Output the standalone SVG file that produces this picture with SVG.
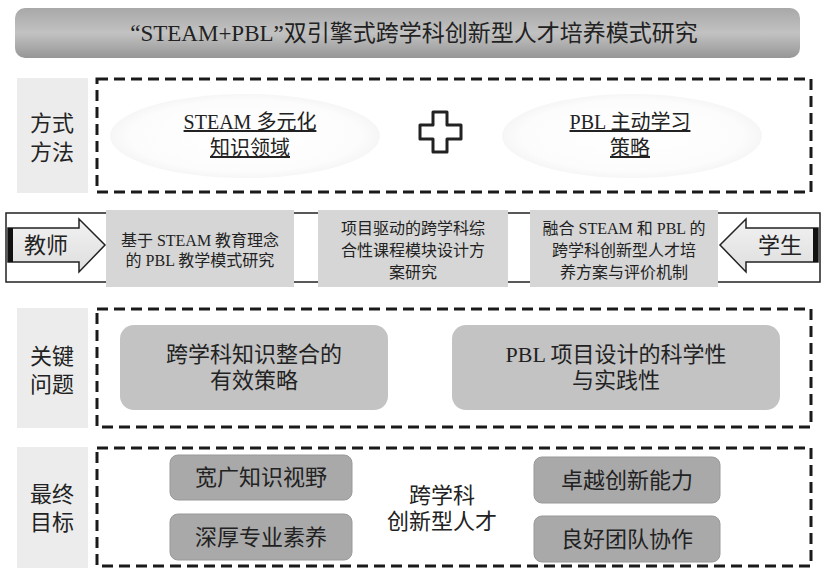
<svg xmlns="http://www.w3.org/2000/svg" width="828" height="576" viewBox="0 0 828 576">
<defs>
<linearGradient id="titleG" x1="0" y1="0" x2="0" y2="1">
<stop offset="0" stop-color="#a8a8a8"/>
<stop offset="0.5" stop-color="#c2c2c2"/>
<stop offset="1" stop-color="#969696"/>
</linearGradient>
<linearGradient id="arrowG" x1="0" y1="0" x2="0" y2="1">
<stop offset="0" stop-color="#f2f2f2"/>
<stop offset="1" stop-color="#dedede"/>
</linearGradient>
<radialGradient id="ellG" cx="0.5" cy="0.5" r="0.5">
<stop offset="0" stop-color="#ffffff"/>
<stop offset="0.85" stop-color="#fcfcfc"/>
<stop offset="1" stop-color="#f6f6f6"/>
</radialGradient>
</defs>
<style>
text{font-family:"Liberation Serif","Noto Sans CJK SC",serif;fill:#222;text-anchor:middle}
.t23{font-size:23px}
.t22{font-size:22px}
.t20{font-size:20px}
.t16{font-size:16px}
.lab{fill:#ececec}
.dash{fill:none;stroke:#1a1a1a;stroke-width:3;stroke-dasharray:11 6}
.band{fill:#d6d6d6}
.key{fill:#c3c3c3}
.goal{fill:#a9a9a9;stroke:#999;stroke-width:1}
.arr{fill:url(#arrowG);stroke:#222;stroke-width:1.5}
.ul{text-decoration:underline}
</style>

<g id="title">
<rect x="15" y="8" width="785" height="50" rx="10" fill="url(#titleG)"/>
<text class="t23" x="414" y="41">“STEAM+PBL”双引擎式跨学科创新型人才培养模式研究</text>
</g>

<g id="method">
<rect class="lab" x="17" y="78" width="71" height="115"/>
<text class="t22" x="52" y="131">方式</text>
<text class="t22" x="52" y="160">方法</text>
<rect class="dash" x="97" y="79" width="714" height="113"/>
<ellipse cx="245" cy="136" rx="135" ry="42" fill="url(#ellG)"/>
<ellipse cx="632" cy="136" rx="130" ry="42" fill="url(#ellG)"/>
</g>
<g id="steam">
<text class="t20 ul" x="250" y="129">STEAM 多元化</text>
<text class="t20 ul" x="250" y="155">知识领域</text>
</g>
<g id="plus">
<path d="M433,112 H447 V125 H461 V139 H447 V152 H433 V139 H420 V125 H433 Z" fill="#fff" stroke="#222" stroke-width="3" stroke-linejoin="round"/>
</g>
<g id="pbl">
<text class="t20 ul" x="630" y="129">PBL 主动学习</text>
<text class="t20 ul" x="630" y="155">策略</text>
</g>

<g id="band">
<rect x="6" y="213" width="814" height="69" fill="#fff" stroke="#222" stroke-width="1.5"/>
</g>
<g id="teacher">
<path class="arr" d="M8,228 H79 V219 L105,245 L79,272 V262 H8 Z"/>
<rect x="8" y="228" width="5" height="34" fill="#111"/>
<text class="t22" x="46" y="253">教师</text>
</g>
<g id="student">
<path class="arr" d="M818,228 H746 V219 L720,245 L746,272 V262 H818 Z"/>
<rect x="813" y="228" width="5" height="34" fill="#111"/>
<text class="t22" x="780" y="253">学生</text>
</g>
<g id="box1">
<rect class="band" x="106" y="210" width="188" height="77"/>
<text class="t16" x="200" y="246">基于 STEAM 教育理念</text>
<text class="t16" x="200" y="266">的 PBL 教学模式研究</text>
</g>
<g id="box2">
<rect class="band" x="318" y="210" width="190" height="77"/>
<text class="t16" x="413" y="234">项目驱动的跨学科综</text>
<text class="t16" x="413" y="256">合性课程模块设计方</text>
<text class="t16" x="413" y="278">案研究</text>
</g>
<g id="box3">
<rect class="band" x="530" y="210" width="188" height="77"/>
<text class="t16" x="624" y="234">融合 STEAM 和 PBL 的</text>
<text class="t16" x="624" y="256">跨学科创新型人才培</text>
<text class="t16" x="624" y="278">养方案与评价机制</text>
</g>

<g id="key">
<rect class="lab" x="17" y="308" width="71" height="120"/>
<text class="t22" x="52" y="364">关键</text>
<text class="t22" x="52" y="392">问题</text>
<rect class="dash" x="97" y="309" width="714" height="118"/>
</g>
<g id="keyA">
<rect class="key" x="120" y="325" width="268" height="85" rx="14"/>
<text class="t22" x="254" y="362">跨学科知识整合的</text>
<text class="t22" x="254" y="388">有效策略</text>
</g>
<g id="keyB">
<rect class="key" x="452" y="325" width="328" height="85" rx="14"/>
<text class="t22" x="616" y="362">PBL 项目设计的科学性</text>
<text class="t22" x="616" y="388">与实践性</text>
</g>

<g id="goal">
<rect class="lab" x="17" y="447" width="71" height="121"/>
<text class="t22" x="52" y="502">最终</text>
<text class="t22" x="52" y="530">目标</text>
<rect class="dash" x="97" y="448" width="714" height="118"/>
</g>
<g id="talent">
<text class="t22" x="442" y="503">跨学科</text>
<text class="t22" x="442" y="529">创新型人才</text>
</g>
<g id="g1">
<rect class="goal" x="170" y="455" width="182" height="45" rx="8"/>
<text class="t22" x="261" y="485">宽广知识视野</text>
</g>
<g id="g2">
<rect class="goal" x="170" y="514" width="182" height="46" rx="8"/>
<text class="t22" x="261" y="545">深厚专业素养</text>
</g>
<g id="g3">
<rect class="goal" x="534" y="457" width="186" height="46" rx="8"/>
<text class="t22" x="627" y="488">卓越创新能力</text>
</g>
<g id="g4">
<rect class="goal" x="534" y="516" width="186" height="46" rx="8"/>
<text class="t22" x="627" y="547">良好团队协作</text>
</g>
</svg>
